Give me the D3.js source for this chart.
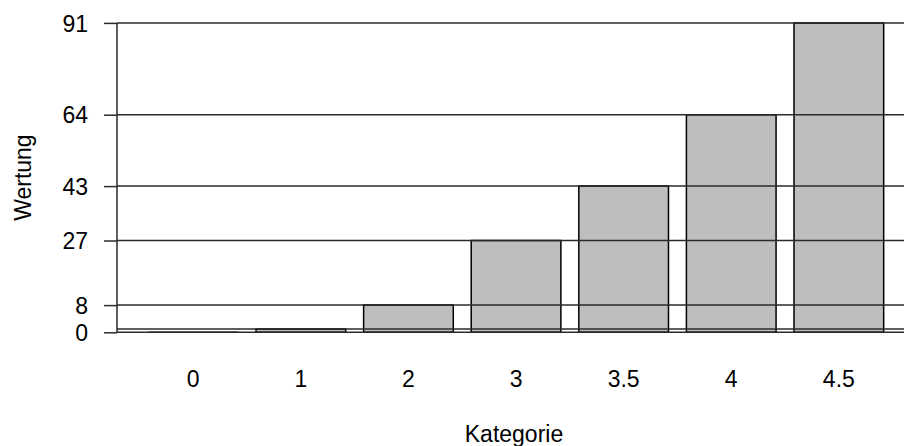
<!DOCTYPE html>
<html>
<head>
<meta charset="utf-8">
<script src="https://cdn.jsdelivr.net/npm/d3@7"></script>
<style>
  html, body { margin: 0; padding: 0; background: #fff; }
  svg { display: block; }
  text { font-family: "Liberation Sans", Arial, sans-serif; fill: #000; }
</style>
</head>
<body>
<svg id="chart" width="904" height="446"></svg>
<script>
const categories = ["0", "1", "2", "3", "3.5", "4", "4.5"];
const values = [0, 1, 8, 27, 43, 64, 91];
const yTicks = [0, 8, 27, 43, 64, 91];
const yTickLabels = ["0", "8", "27", "43", "64", "91"];
const xTitle = "Kategorie";
const yTitle = "Wertung";

const svg = d3.select("#chart");
const W = 904, H = 446;
const axisX = 117;
const FS = 23;

const x = d3.scaleBand()
  .domain(categories)
  .range([130.5, 901.6])
  .paddingInner(1 / 6)
  .paddingOuter(1 / 6);

const y = d3.scaleLinear()
  .domain([0, 91])
  .range([332.3, 22.9]);

// bars
svg.append("g")
  .selectAll("path")
  .data(categories.map((c, i) => ({ c, v: values[i] })))
  .join("path")
  .attr("d", d => {
    const x0 = x(d.c), x1 = x(d.c) + x.bandwidth();
    const y0 = y(0), y1 = y(d.v);
    return `M${x0},${y0}L${x0},${y1}L${x1},${y1}L${x1},${y0}Z`;
  })
  .attr("fill", "#bebebe")
  .attr("stroke", "#000")
  .attr("stroke-width", 1.5);

// horizontal lines at data values
svg.append("g")
  .selectAll("line")
  .data(values)
  .join("line")
  .attr("x1", axisX)
  .attr("x2", W)
  .attr("y1", d => y(d))
  .attr("y2", d => y(d))
  .attr("stroke", "#2a2a2a")
  .attr("stroke-width", 1.5);

// y axis
const yAxis = d3.axisLeft(y)
  .tickValues(yTicks)
  .tickFormat((d, i) => yTickLabels[i])
  .tickSize(13)
  .tickPadding(16);

const gy = svg.append("g")
  .attr("transform", `translate(${axisX},0)`)
  .call(yAxis);
gy.select(".domain").remove();
gy.selectAll(".tick line").attr("stroke", "#2a2a2a").attr("stroke-width", 1.5);
gy.selectAll(".tick text")
  .attr("font-size", FS)
  .attr("font-family", "Liberation Sans, Arial, sans-serif")
  .attr("fill", "#000")
  .attr("dy", "0.36em");
gy.append("line")
  .attr("x1", 0).attr("x2", 0)
  .attr("y1", y(0)).attr("y2", y(d3.max(yTicks)))
  .attr("stroke", "#2a2a2a")
  .attr("stroke-width", 1.5);

// x labels
const xAxis = d3.axisBottom(x).tickSize(0).tickPadding(0);
const gx = svg.append("g")
  .attr("transform", `translate(0,${y(0)})`)
  .call(xAxis);
gx.select(".domain").remove();
gx.selectAll(".tick text")
  .attr("font-size", FS)
  .attr("font-family", "Liberation Sans, Arial, sans-serif")
  .attr("fill", "#000")
  .attr("dy", null)
  .attr("y", 387 - y(0));

// titles
svg.append("text")
  .attr("x", 514)
  .attr("y", 442)
  .attr("text-anchor", "middle")
  .attr("font-size", FS)
  .text(xTitle);

svg.append("text")
  .attr("transform", `translate(31,${(y(0) + y(91)) / 2}) rotate(-90)`)
  .attr("text-anchor", "middle")
  .attr("font-size", FS)
  .text(yTitle);
</script>
</body>
</html>
